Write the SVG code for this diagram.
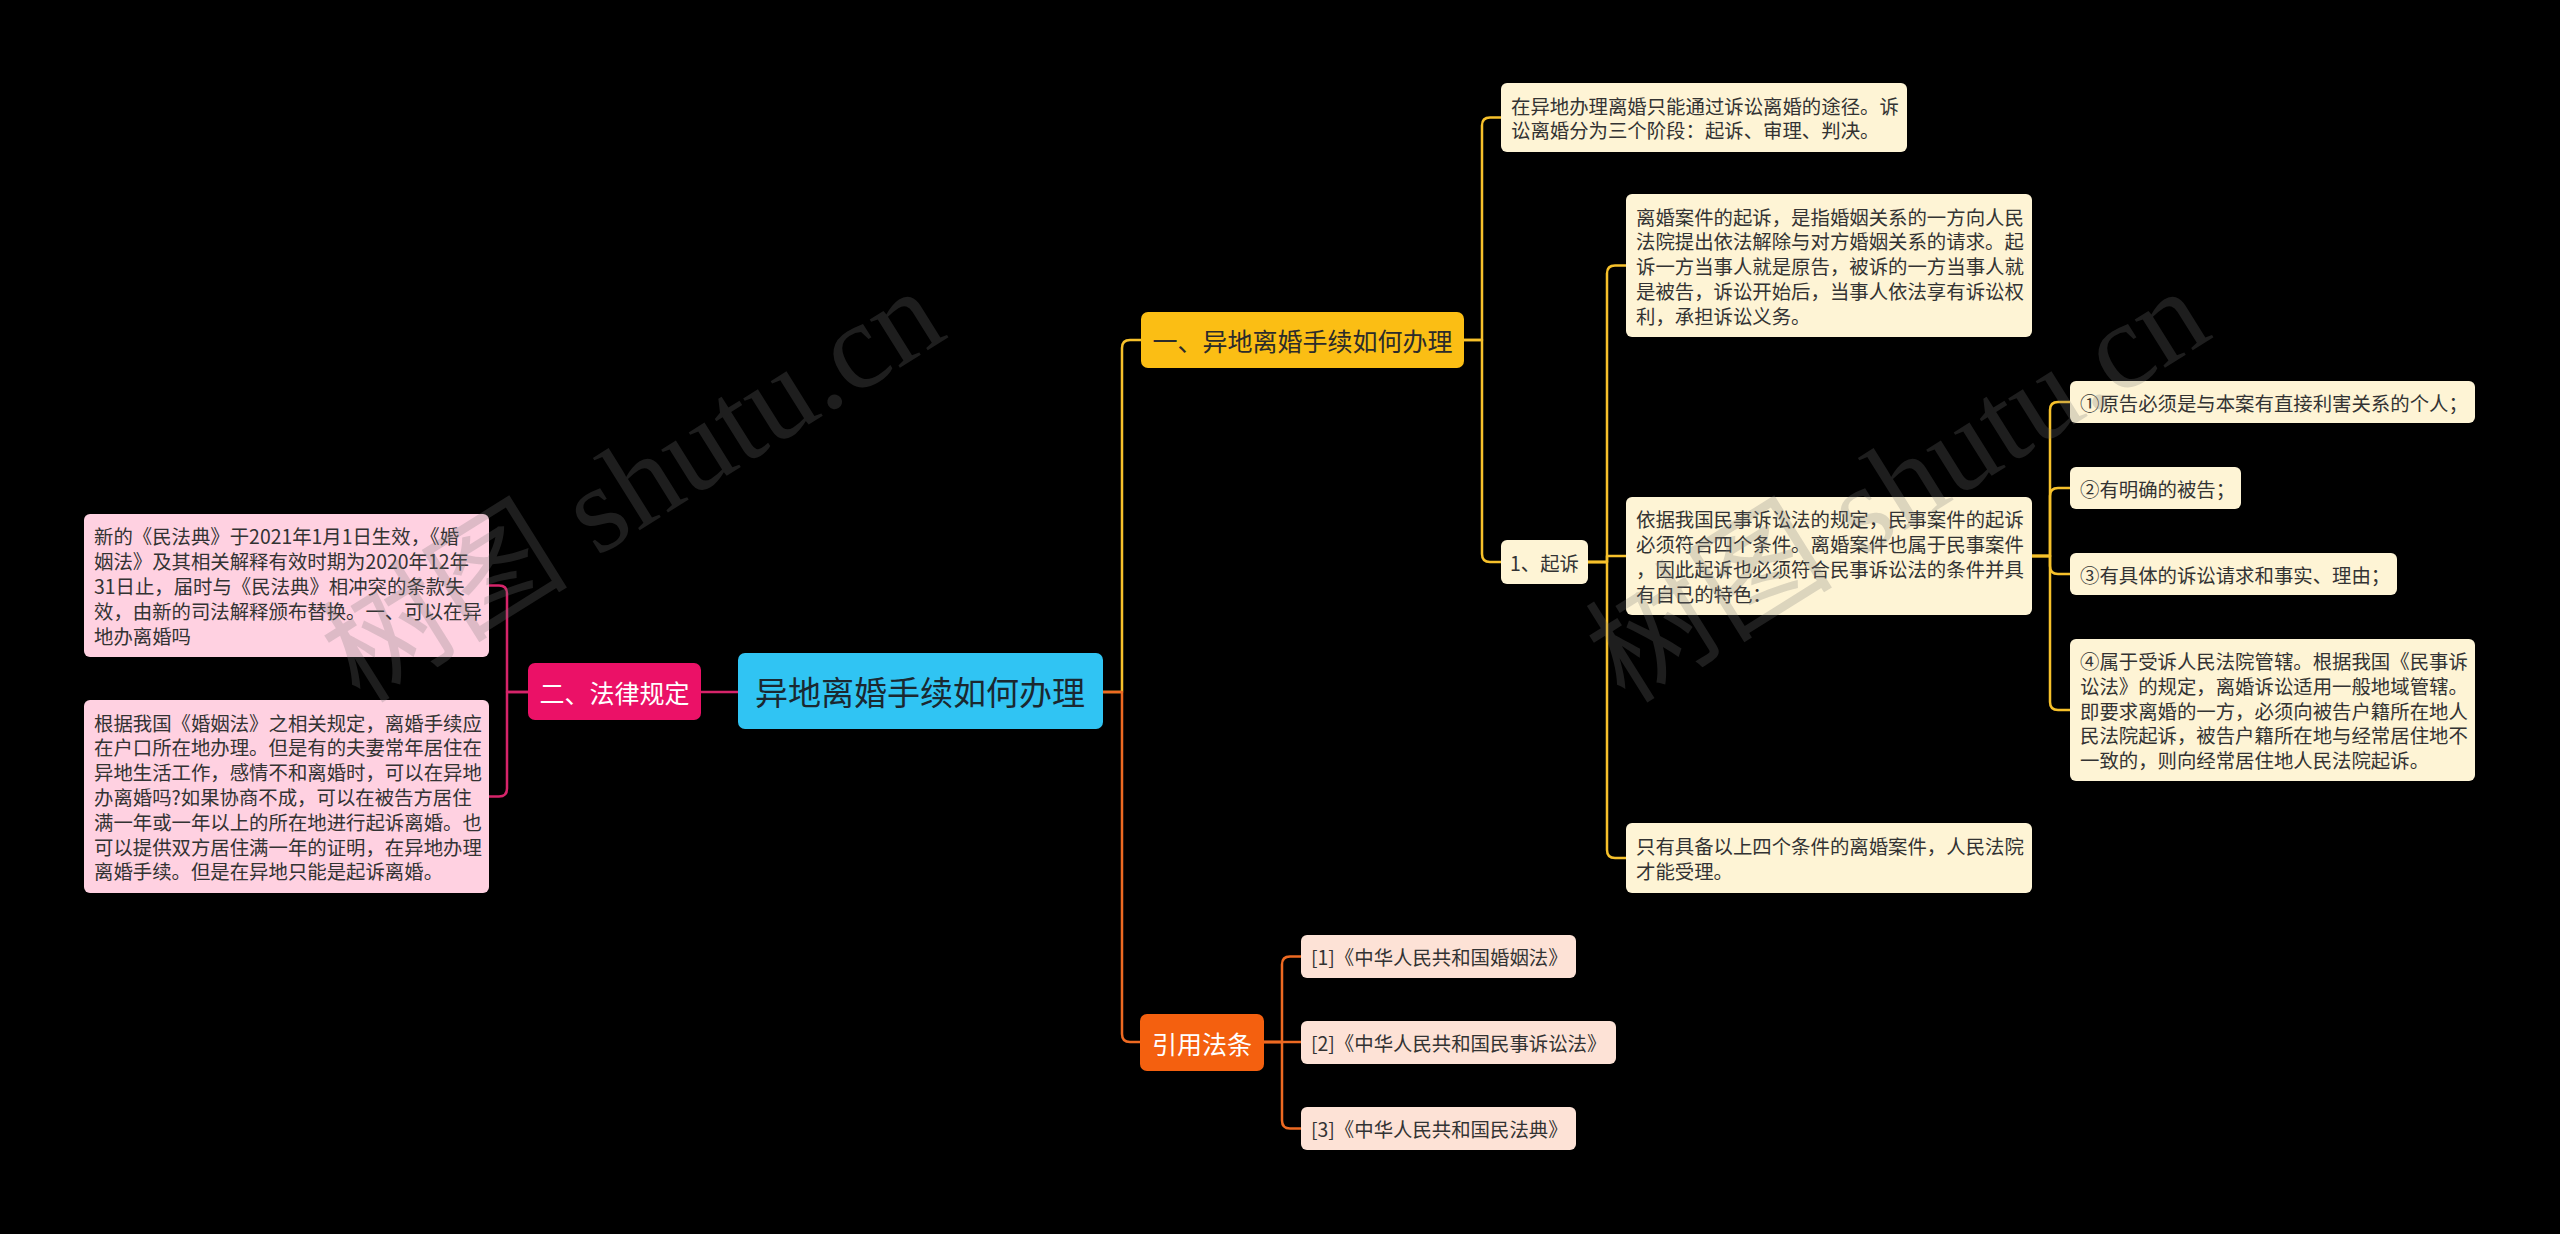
<svg xmlns="http://www.w3.org/2000/svg" width="2560" height="1234" viewBox="0 0 2560 1234">
<style>
text{font-family:"Noto Sans CJK SC","Liberation Sans",sans-serif;dominant-baseline:central}
.t{font-size:19.4px;fill:#333333}
.c{text-anchor:middle}
.cn{fill:none;stroke-width:2.5;stroke-linejoin:round;stroke-linecap:round}
.y{stroke:#F7C12B}.o{stroke:#EE6A22}.p{stroke:#D6246A}
.cream{fill:#FEF4D5}.pink{fill:#FFD1E1}.peach{fill:#FDE2D6}
.wm{font-family:"Liberation Serif","Noto Sans CJK SC",serif;font-size:124px;fill:#777777;fill-opacity:0.25;dominant-baseline:auto}
</style>
<rect width="2560" height="1234" fill="#000000"/>
<g id="connectors">
<path class="cn y" d="M1102 692 H1122 V348 Q1122 340 1130 340 H1141"/>
<path class="cn o" d="M1102 692 H1122 V1034 Q1122 1042 1130 1042 H1140"/>
<path class="cn p" d="M738 692 H701"/>
<path class="cn p" d="M528 692 H507 V593.5 Q507 585.5 499 585.5 H489"/>
<path class="cn p" d="M528 692 H507 V788.5 Q507 796.5 499 796.5 H489"/>
<path class="cn y" d="M1464 340 H1482 V125.5 Q1482 117.5 1490 117.5 H1501"/>
<path class="cn y" d="M1464 340 H1482 V554 Q1482 562 1490 562 H1501"/>
<path class="cn y" d="M1588 562 H1607 V273.5 Q1607 265.5 1615 265.5 H1626"/>
<path class="cn y" d="M1588 562 H1607 V556 H1626"/>
<path class="cn y" d="M1588 562 H1607 V850 Q1607 858 1615 858 H1626"/>
<path class="cn y" d="M2032 556 H2050 V410 Q2050 402 2058 402 H2070"/>
<path class="cn y" d="M2032 556 H2050 V496 Q2050 488 2058 488 H2070"/>
<path class="cn y" d="M2032 556 H2050 V566 Q2050 574 2058 574 H2070"/>
<path class="cn y" d="M2032 556 H2050 V702 Q2050 710 2058 710 H2070"/>
<path class="cn o" d="M1264 1042 H1282 V964.5 Q1282 956.5 1290 956.5 H1301"/>
<path class="cn o" d="M1264 1042 H1301"/>
<path class="cn o" d="M1264 1042 H1282 V1120.5 Q1282 1128.5 1290 1128.5 H1301"/>
</g>
<g id="root">
<rect x="738" y="653" width="365" height="76" rx="7" fill="#30C4F3"/>
<text x="920" y="691" class="c" style="font-size:33px;fill:#1B2830">异地离婚手续如何办理</text>
</g>
<g id="law">
<rect x="528" y="663" width="173" height="57" rx="7" fill="#EB1167"/>
<text x="614.5" y="691.5" class="c" style="font-size:25px;fill:#FFFFFF">二、法律规定</text>
</g>
<g id="law1">
<rect x="84" y="514" width="405" height="143" rx="6" class="pink"/>
<text class="t" x="94" y="535.9">新的《民法典》于2021年1月1日生效，《婚</text>
<text class="t" x="94" y="560.7">姻法》及其相关解释有效时期为2020年12年</text>
<text class="t" x="94" y="585.5">31日止，届时与《民法典》相冲突的条款失</text>
<text class="t" x="94" y="610.3">效，由新的司法解释颁布替换。一、可以在异</text>
<text class="t" x="94" y="635.1">地办离婚吗</text>
</g>
<g id="law2">
<rect x="84" y="700" width="405" height="193" rx="6" class="pink"/>
<text class="t" x="94" y="722.1">根据我国《婚姻法》之相关规定，离婚手续应</text>
<text class="t" x="94" y="746.9">在户口所在地办理。但是有的夫妻常年居住在</text>
<text class="t" x="94" y="771.7">异地生活工作，感情不和离婚时，可以在异地</text>
<text class="t" x="94" y="796.5">办离婚吗?如果协商不成，可以在被告方居住</text>
<text class="t" x="94" y="821.3">满一年或一年以上的所在地进行起诉离婚。也</text>
<text class="t" x="94" y="846.1">可以提供双方居住满一年的证明，在异地办理</text>
<text class="t" x="94" y="870.9">离婚手续。但是在异地只能是起诉离婚。</text>
</g>
<g id="branch1">
<rect x="1141" y="312" width="323" height="56" rx="7" fill="#FBBE14"/>
<text x="1302.5" y="340" class="c" style="font-size:25px;fill:#2B2B2B">一、异地离婚手续如何办理</text>
</g>
<g id="b1n1">
<rect x="1501" y="83" width="406" height="69" rx="6" class="cream"/>
<text class="t" x="1511" y="105.1">在异地办理离婚只能通过诉讼离婚的途径。诉</text>
<text class="t" x="1511" y="129.9">讼离婚分为三个阶段：起诉、审理、判决。</text>
</g>
<g id="qisu">
<rect x="1501" y="540" width="87" height="44" rx="6" class="cream"/>
<text class="t c" x="1544.5" y="562">1、起诉</text>
</g>
<g id="qisu1">
<rect x="1626" y="194" width="406" height="143" rx="6" class="cream"/>
<text class="t" x="1636" y="216">离婚案件的起诉，是指婚姻关系的一方向人民</text>
<text class="t" x="1636" y="240.8">法院提出依法解除与对方婚姻关系的请求。起</text>
<text class="t" x="1636" y="265.5">诉一方当事人就是原告，被诉的一方当事人就</text>
<text class="t" x="1636" y="290.3">是被告，诉讼开始后，当事人依法享有诉讼权</text>
<text class="t" x="1636" y="315.1">利，承担诉讼义务。</text>
</g>
<g id="qisu2">
<rect x="1626" y="497" width="406" height="118" rx="6" class="cream"/>
<text class="t" x="1636" y="518.8">依据我国民事诉讼法的规定，民事案件的起诉</text>
<text class="t" x="1636" y="543.6">必须符合四个条件。离婚案件也属于民事案件</text>
<text class="t" x="1636" y="568.4">，因此起诉也必须符合民事诉讼法的条件并具</text>
<text class="t" x="1636" y="593.2">有自己的特色：</text>
</g>
<g id="qisu3">
<rect x="1626" y="823" width="406" height="70" rx="6" class="cream"/>
<text class="t" x="1636" y="845.6">只有具备以上四个条件的离婚案件，人民法院</text>
<text class="t" x="1636" y="870.4">才能受理。</text>
</g>
<g id="cond1">
<rect x="2070" y="381" width="405" height="42" rx="6" class="cream"/>
<text class="t" x="2080" y="402">①原告必须是与本案有直接利害关系的个人；</text>
</g>
<g id="cond2">
<rect x="2070" y="467" width="171" height="42" rx="6" class="cream"/>
<text class="t" x="2080" y="488">②有明确的被告；</text>
</g>
<g id="cond3">
<rect x="2070" y="553" width="327" height="42" rx="6" class="cream"/>
<text class="t" x="2080" y="574">③有具体的诉讼请求和事实、理由；</text>
</g>
<g id="cond4">
<rect x="2070" y="639" width="405" height="142" rx="6" class="cream"/>
<text class="t" x="2080" y="660.4">④属于受诉人民法院管辖。根据我国《民事诉</text>
<text class="t" x="2080" y="685.2">讼法》的规定，离婚诉讼适用一般地域管辖。</text>
<text class="t" x="2080" y="710">即要求离婚的一方，必须向被告户籍所在地人</text>
<text class="t" x="2080" y="734.8">民法院起诉，被告户籍所在地与经常居住地不</text>
<text class="t" x="2080" y="759.6">一致的，则向经常居住地人民法院起诉。</text>
</g>
<g id="refs">
<rect x="1140" y="1014" width="124" height="57" rx="7" fill="#F4600F"/>
<text x="1202" y="1042.5" class="c" style="font-size:25px;fill:#FFFFFF">引用法条</text>
</g>
<g id="ref1">
<rect x="1301" y="935" width="275" height="43" rx="6" class="peach"/>
<text class="t" x="1311" y="956.5">[1]《中华人民共和国婚姻法》</text>
</g>
<g id="ref2">
<rect x="1301" y="1021" width="315" height="43" rx="6" class="peach"/>
<text class="t" x="1311" y="1042.5">[2]《中华人民共和国民事诉讼法》</text>
</g>
<g id="ref3">
<rect x="1301" y="1107" width="275" height="43" rx="6" class="peach"/>
<text class="t" x="1311" y="1128.5">[3]《中华人民共和国民法典》</text>
</g>
<g id="watermark">
<text class="wm" transform="translate(360 705) rotate(-32)">树图 shutu.cn</text>
<text class="wm" transform="translate(1625 705) rotate(-32)">树图 shutu.cn</text>
</g>
</svg>
